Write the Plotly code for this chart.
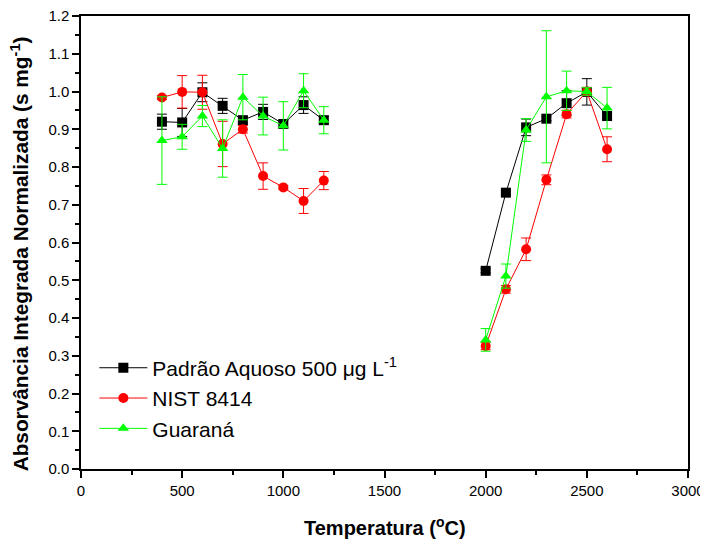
import plotly.graph_objects as go

temps = [400, 500, 600, 700, 800, 900, 1000, 1100, 1200,
         2000, 2100, 2200, 2300, 2400, 2500, 2600]

padrao = [0.920, 0.918, 0.998, 0.962, 0.924, 0.946, 0.914, 0.964, 0.924,
          0.525, 0.732, 0.905, 0.928, 0.969, 0.999, 0.935]
padrao_err = [0.020, 0.037, 0.025, 0.020, 0.010, 0.020, 0.010, 0.022, 0.010,
              0.005, 0.005, 0.022, 0.005, 0.033, 0.035, 0.010]

nist = [0.984, 0.999, 0.998, 0.861, 0.900, 0.776, 0.746, 0.710, 0.764,
        0.326, 0.476, 0.582, 0.766, 0.940, 1.000, 0.847]
nist_err = [0.005, 0.043, 0.045, 0.060, 0.010, 0.035, 0.005, 0.033, 0.024,
            0.010, 0.010, 0.030, 0.013, 0.010, 0.010, 0.033]

guarana = [0.870, 0.880, 0.935, 0.849, 0.985, 0.935, 0.909, 1.002, 0.924,
           0.342, 0.511, 0.898, 0.986, 1.002, 1.000, 0.956]
guarana_err = [0.116, 0.033, 0.028, 0.076, 0.060, 0.050, 0.064, 0.045, 0.036,
               0.030, 0.032, 0.030, 0.175, 0.052, 0.010, 0.055]

x_title = "<b>Temperatura (<sup>o</sup>C)</b>"
y_title = "<b>Absorvância Integrada Normalizada (s mg<sup>-1</sup>)</b>"

series = [
    ("Padrão Aquoso 500 μg L<sup>-1</sup>", padrao, padrao_err, "#000000", "square"),
    ("NIST 8414", nist, nist_err, "#FF0000", "circle"),
    ("Guaraná", guarana, guarana_err, "#00FF00", "triangle-up"),
]

fig = go.Figure()
for name, vals, errs, color, sym in series:
    for seg in (slice(0, 9), slice(9, 16)):
        fig.add_trace(go.Scatter(
            x=temps[seg], y=vals[seg],
            mode="lines+markers",
            name=name,
            legendgroup=name,
            showlegend=(seg.start == 0),
            line=dict(color=color, width=1),
            marker=dict(color=color, symbol=sym, size=10),
            error_y=dict(type="data", array=errs[seg], visible=True,
                         color=color, thickness=1, width=5),
        ))

FONT = "Liberation Sans, Arial, sans-serif"

# The page body adds an 8 px offset; the figure is sized to fill the window.
fig.update_layout(
    width=700, height=531,
    margin=dict(l=73, r=20, t=8, b=70, autoexpand=False),
    paper_bgcolor="white", plot_bgcolor="white",
    font=dict(family=FONT, color="black", size=15),
    legend=dict(x=0.022, y=0.268, xanchor="left", yanchor="top",
                bgcolor="rgba(0,0,0,0)", font=dict(size=21, family=FONT),
                tracegroupgap=0, itemwidth=48),
    xaxis=dict(
        range=[0, 3000], dtick=500, tick0=0, automargin=False,
        ticklabeloverflow="allow",
        showline=True, linecolor="black", linewidth=1.5, mirror=True,
        ticks="outside", ticklen=7, tickwidth=1.5, tickcolor="black",
        tickfont=dict(size=15, family=FONT),
        minor=dict(dtick=250, ticks="outside", ticklen=4, tickcolor="black", tickwidth=1.5),
        showgrid=False, zeroline=False,
    ),
    yaxis=dict(
        range=[0, 1.2], dtick=0.1, tick0=0, tickformat=".1f", automargin=False,
        ticklabeloverflow="allow",
        showline=True, linecolor="black", linewidth=1.5, mirror=True,
        ticks="outside", ticklen=7, tickwidth=1.5, tickcolor="black",
        tickfont=dict(size=15, family=FONT),
        minor=dict(dtick=0.05, ticks="outside", ticklen=4, tickcolor="black", tickwidth=1.5),
        showgrid=False, zeroline=False,
    ),
    annotations=[
        dict(text=x_title, xref="paper", yref="paper", x=0.5, y=-0.128,
             xanchor="center", yanchor="middle", showarrow=False,
             font=dict(size=20, family=FONT, color="black")),
        dict(text=y_title, xref="paper", yref="paper", x=-0.1005, y=0.476,
             xanchor="center", yanchor="middle", showarrow=False, textangle=-90,
             font=dict(size=20.8, family=FONT, color="black")),
    ],
)

fig.write_html("out.html")
